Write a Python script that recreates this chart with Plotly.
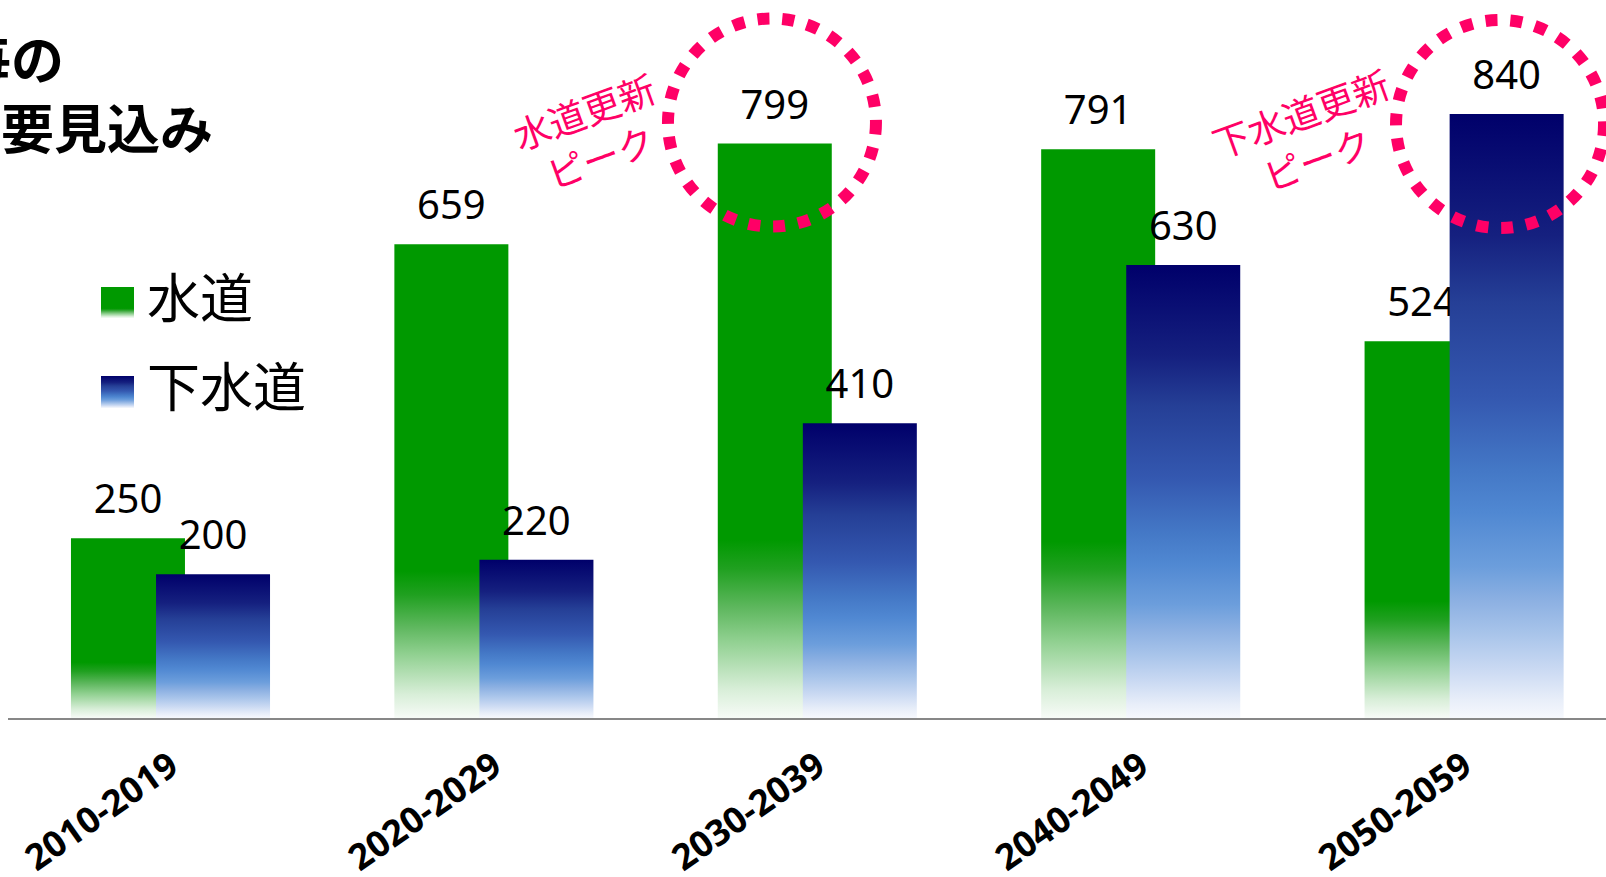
import plotly.graph_objects as go

# ---------------- data ----------------
categories = ["2010-2019", "2020-2029", "2030-2039", "2040-2049", "2050-2059"]
water = [250, 659, 799, 791, 524]      # 水道
sewer = [200, 220, 410, 630, 840]      # 下水道
series_names = ["水道", "下水道"]
title_lines = ["年度毎の", "要見込み"]   # visible part of the slide title
peak_notes = ["水道更新<br>ピーク", "下水道更新<br>ピーク"]

# ---------------- layout constants (pixels) ----------------
W, H = 1606, 877
L_M, R_M, T_M, B_M = 8, 0, 0, 159
PLOT_W = W - L_M - R_M
PLOT_H = H - T_M - B_M
PX_PER_CAT = 323.4
PX_PER_UNIT = 0.719
FIRST_CENTER_PX = 170.5
BAR_W = 0.3525
OFFSET = 0.1315
LABEL_GAP_PX = 35

x_lo = -(FIRST_CENTER_PX - L_M) / PX_PER_CAT
x_hi = x_lo + PLOT_W / PX_PER_CAT
y_hi = PLOT_H / PX_PER_UNIT

GREEN_SCALE = [[0, '#f7fbf7'], [0.05, '#d8eed8'], [0.135, '#90d090'], [0.19, '#60b860'],
               [0.26, '#20a020'], [0.31, '#009900'], [1, '#009900']]
BLUE_SCALE = [[0, '#f6f8fd'], [0.03, '#e8eef9'], [0.084, '#c8d8f2'], [0.14, '#a8c4ea'],
              [0.195, '#8cb0e2'], [0.25, '#6c9edc'], [0.34, '#5088d2'], [0.41, '#4478c6'],
              [0.53, '#3458b0'], [0.69, '#253f96'], [0.8, '#15207f'], [1, '#00006a']]

NUM_FONT = "Noto Sans, Open Sans, sans-serif"
JP_FONT = "Noto Sans CJK JP, sans-serif"
PINK = '#ff0066'


def px_x(px):
    return (px - L_M) / PLOT_W


def px_y(py):
    return (T_M + PLOT_H - py) / PLOT_H


fig = go.Figure()


def add_bars(values, offset, scale, name):
    for i, v in enumerate(values):
        xc = i + offset
        fig.add_trace(go.Scatter(
            x=[xc - BAR_W / 2, xc + BAR_W / 2, xc + BAR_W / 2, xc - BAR_W / 2, xc - BAR_W / 2],
            y=[0, 0, v, v, 0],
            mode='lines', line=dict(width=0), fill='toself',
            fillgradient=dict(type='vertical', colorscale=scale),
            hoverinfo='skip', showlegend=False, name=name))
    fig.add_trace(go.Scatter(
        x=[i + offset for i in range(len(values))],
        y=[v + LABEL_GAP_PX / PX_PER_UNIT for v in values],
        mode='text', text=[str(v) for v in values], textposition='middle center',
        textfont=dict(family=NUM_FONT, size=40, color='black'),
        hoverinfo='skip', showlegend=False))


add_bars(water, -OFFSET, GREEN_SCALE, series_names[0])
add_bars(sewer, OFFSET, BLUE_SCALE, series_names[1])

# legend swatches on an overlay paper-like axis
legend_items = [(series_names[0], GREEN_SCALE, 287, 318, 295),
                (series_names[1], BLUE_SCALE, 376, 408, 384)]
annotations = []
for name, scale, top, bot, cy in legend_items:
    x0, x1 = px_x(101), px_x(134)
    y0, y1 = px_y(bot), px_y(top)
    fig.add_trace(go.Scatter(
        x=[x0, x1, x1, x0, x0], y=[y0, y0, y1, y1, y0], xaxis='x2', yaxis='y2',
        mode='lines', line=dict(width=0), fill='toself',
        fillgradient=dict(type='vertical', colorscale=scale),
        hoverinfo='skip', showlegend=False))
    annotations.append(dict(text=name, xref='paper', yref='paper', x=px_x(145), y=px_y(cy),
                            xanchor='left', yanchor='middle', showarrow=False,
                            font=dict(family=JP_FONT, size=53, color='black')))

# title (cut off on the left as in the slide)
annotations.append(dict(text=title_lines[0], xref='paper', yref='paper', x=px_x(66), y=px_y(57),
                        xanchor='right', yanchor='middle', showarrow=False,
                        font=dict(family=JP_FONT, size=53, color='black', weight='bold')))
annotations.append(dict(text=title_lines[1], xref='paper', yref='paper', x=px_x(215), y=px_y(126),
                        xanchor='right', yanchor='middle', showarrow=False,
                        font=dict(family=JP_FONT, size=53, color='black', weight='bold')))

# peak markers
water_peak = max(range(len(water)), key=lambda i: water[i])
sewer_peak = max(range(len(sewer)), key=lambda i: sewer[i])
peaks = [(water_peak - OFFSET, water[water_peak], -2.8, 21, -182.3, 10.5, peak_notes[0]),
         (sewer_peak + OFFSET, sewer[sewer_peak], -6.6, -10, -198.1, -20.5, peak_notes[1])]
R = 104
shapes = []
for xa, ya, dx, dy, tx, ty, note in peaks:
    shapes.append(dict(type='circle', xref='x', yref='y', xsizemode='pixel', ysizemode='pixel',
                       xanchor=xa, yanchor=ya, x0=dx - R, x1=dx + R, y0=dy - R, y1=dy + R,
                       line=dict(color=PINK, width=12, dash='12px,13px')))
    annotations.append(dict(text=note, xref='x', yref='y', x=xa, y=ya, xshift=tx, yshift=ty,
                            xanchor='center', yanchor='middle', showarrow=False, textangle=-20,
                            align='center', font=dict(family=JP_FONT, size=37, color=PINK)))

fig.update_layout(
    width=W, height=H,
    margin=dict(l=L_M, r=R_M, t=T_M, b=B_M, autoexpand=False),
    paper_bgcolor='white', plot_bgcolor='white',
    showlegend=False,
    xaxis=dict(range=[x_lo, x_hi], tickmode='array', tickvals=list(range(len(categories))),
               ticktext=categories, tickangle=-35, ticks='', showgrid=False, zeroline=False,
               showline=True, linecolor='#878787', linewidth=2, ticklabelstandoff=11,
               automargin=False,
               tickfont=dict(family=NUM_FONT, size=36, color='black', weight='bold')),
    yaxis=dict(range=[0, y_hi], visible=False, showgrid=False, zeroline=False, automargin=False),
    xaxis2=dict(range=[0, 1], overlaying='x', visible=False),
    yaxis2=dict(range=[0, 1], overlaying='y', visible=False),
    shapes=shapes, annotations=annotations,
)

fig.write_html("out.html")
